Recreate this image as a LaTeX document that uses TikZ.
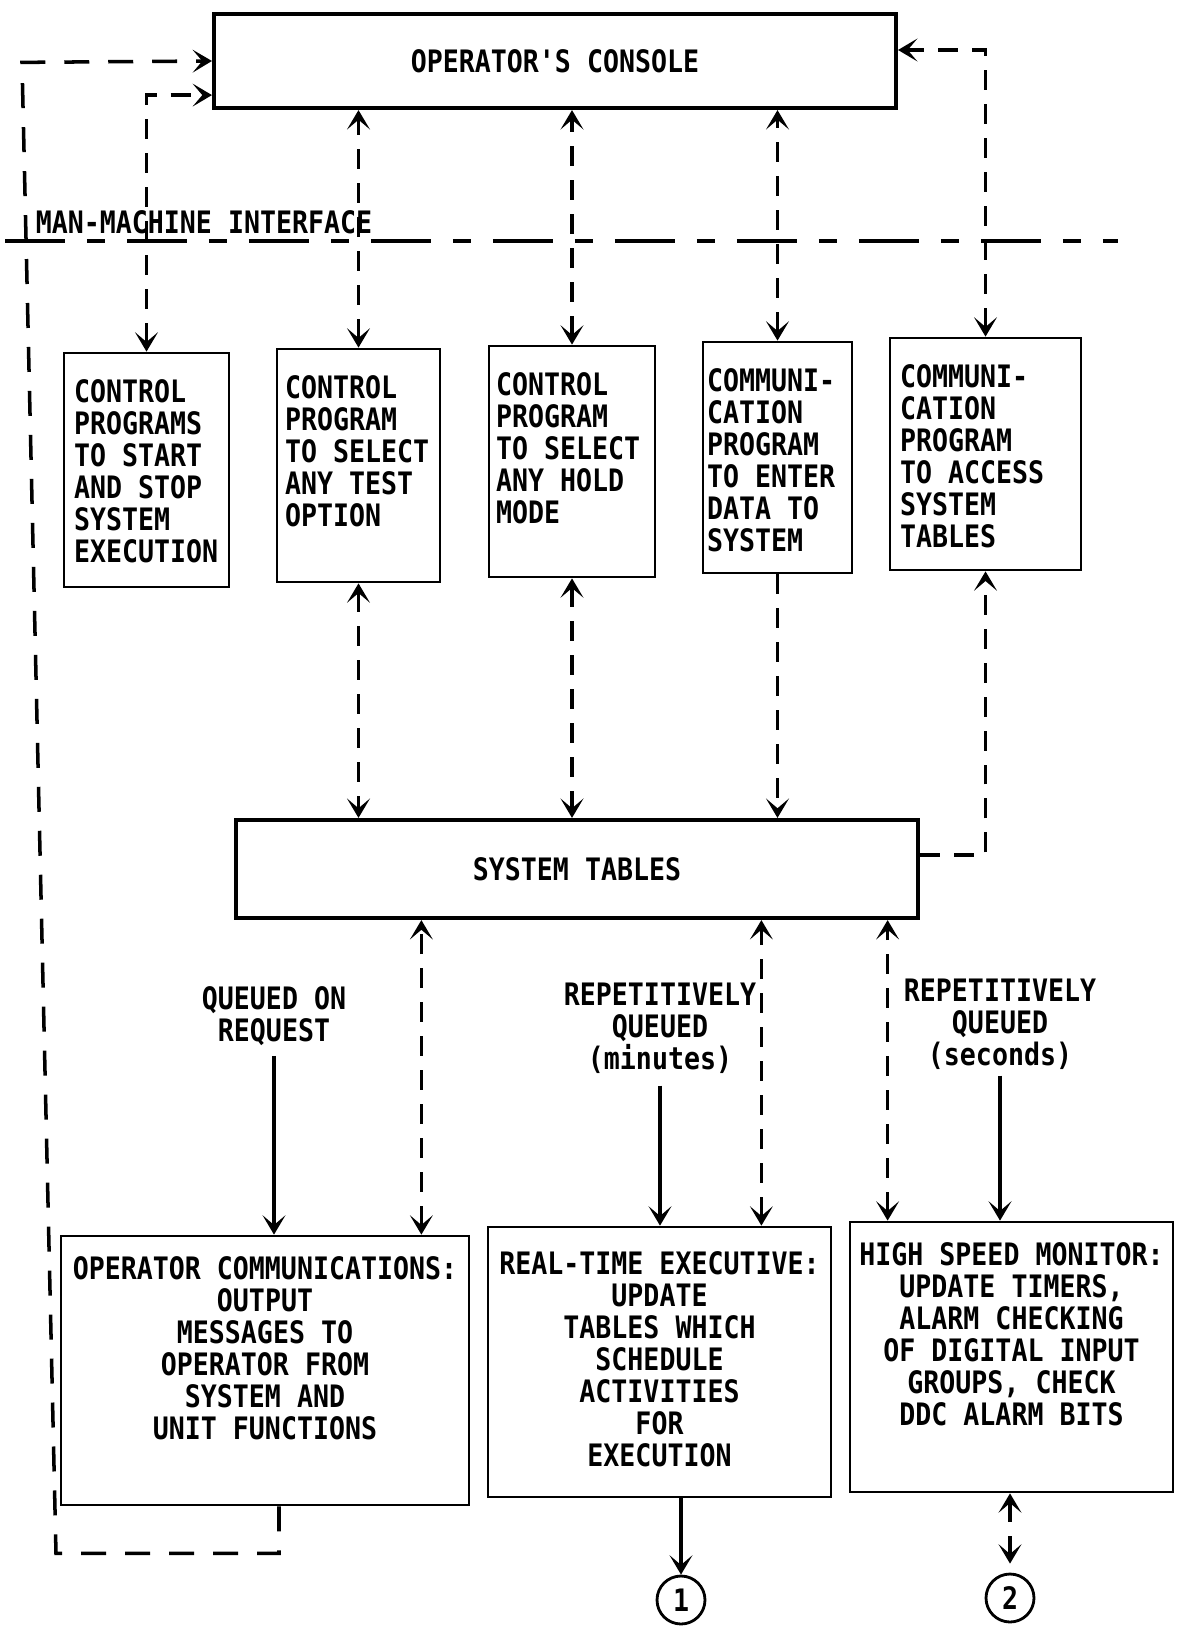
\documentclass[tikz,border=0pt]{standalone}
\usepackage{fontspec}
\usepackage{tikz}
\usetikzlibrary{arrows.meta}
\newfontfamily\lettering[FakeStretch=0.86]{DejaVu Sans Mono}
\newcommand{\letterfont}{\lettering\bfseries\fontsize{17.6pt}{18.2pt}\selectfont}
\newcommand{\lefttext}[3]{\parbox[c][#2][t]{#1}{\raggedright #3}}
\newcommand{\centretext}[3]{\parbox[c][#2][t]{#1}{\centering #3}}

\begin{document}
\begin{tikzpicture}[x=0.02cm, y=-0.02cm, >={Stealth[length=11pt,width=13pt,inset=5.5pt]}]
        \tikzstyle{box} = [draw, line width=2.4pt, font=\letterfont]
        \tikzstyle{prog} = [draw, line width=1.6pt, inner ysep=0.54cm, font=\letterfont]
        \tikzstyle{task} = [draw, line width=1.6pt, inner xsep=0.1cm, font=\letterfont]
        \tikzstyle{queue} = [align=center, inner sep=0pt, font=\letterfont]
        \tikzstyle{offpage} = [draw, circle, line width=1.6pt, minimum size=0.96cm, inner sep=0pt, font=\letterfont]
        \tikzstyle{link} = [line width=2pt, dash pattern=on 0.4cm off 0.28cm]
        \tikzstyle{flow} = [->, line width=1.8pt]
        \tikzstyle{feedback} = [->, line width=2pt, dash pattern=on 0.5cm off 0.38cm]
        \tikzstyle{divider} = [line width=2pt, dash pattern=on 1.2cm off 0.44cm on 0.36cm off 0.44cm]
        \useasboundingbox (0,0) rectangle (1176,1631);
        \node[box, minimum width=13.64cm, minimum height=1.88cm] (console) at (555,61) {OPERATOR'S CONSOLE};
        \node[queue] (mmi) at (204,222) {MAN-MACHINE INTERFACE};
        \draw[divider] (5,241) -- (1118,241);
        \node[prog, inner xsep=0.2cm] (prog1) at (146.5,470) {\lefttext{2.9cm}{3.6cm}{CONTROL\\PROGRAMS\\TO START\\AND STOP\\SYSTEM\\EXECUTION}};
        \node[prog, inner xsep=0.16cm] (prog2) at (358.5,465.5) {\lefttext{2.94cm}{3.58cm}{CONTROL\\PROGRAM\\TO SELECT\\ANY TEST\\OPTION}};
        \node[prog, inner xsep=0.14cm] (prog3) at (572,461.5) {\lefttext{3.04cm}{3.54cm}{CONTROL\\PROGRAM\\TO SELECT\\ANY HOLD\\MODE}};
        \node[prog, inner xsep=0.08cm] (prog4) at (777.5,457.5) {\lefttext{2.82cm}{3.54cm}{COMMUNI-\\CATION\\PROGRAM\\TO ENTER\\DATA TO\\SYSTEM}};
        \node[prog, inner xsep=0.2cm] (prog5) at (985.5,454) {\lefttext{3.42cm}{3.56cm}{COMMUNI-\\CATION\\PROGRAM\\TO ACCESS\\SYSTEM\\TABLES}};
        \node[box, minimum width=13.64cm, minimum height=1.96cm] (tables) at (577,869) {SYSTEM TABLES};
        \node[queue] (queue1) at (274,1016) {QUEUED ON\\REQUEST};
        \node[queue] (queue2) at (660,1028) {REPETITIVELY\\QUEUED\\(minutes)};
        \node[queue] (queue3) at (1000,1024) {REPETITIVELY\\QUEUED\\(seconds)};
        \node[task, inner ysep=0.42cm] (task1) at (265,1370.5) {\centretext{7.96cm}{4.54cm}{OPERATOR COMMUNICATIONS:\\OUTPUT\\MESSAGES TO\\OPERATOR FROM\\SYSTEM AND\\UNIT FUNCTIONS}};
        \node[task, inner ysep=0.5cm] (task2) at (659.5,1362) {\centretext{6.66cm}{4.4cm}{REAL-TIME EXECUTIVE:\\UPDATE\\TABLES WHICH\\SCHEDULE\\ACTIVITIES\\FOR\\EXECUTION}};
        \node[task, inner ysep=0.42cm] (task3) at (1011.5,1357) {\centretext{6.26cm}{4.56cm}{HIGH SPEED MONITOR:\\UPDATE TIMERS,\\ALARM CHECKING\\OF DIGITAL INPUT\\GROUPS, CHECK\\DDC ALARM BITS}};
        \node[offpage] (off1) at (681,1600) {1};
        \node[offpage] (off2) at (1010,1598) {2};
        \coordinate (tap1) at ([xshift=-0.98cm]task1.north east);
        \coordinate (tap2) at ([xshift=-1.42cm]task2.north east);
        \coordinate (tap3) at ([xshift=0.78cm]task3.north west);
        \draw[link, <->] (prog1.north) |- ([yshift=0.3cm]console.south west);
        \draw[link, <->] (prog2.north) -- (prog2.north |- console.south);
        \draw[link, <->] (prog3.north) -- (prog3.north |- console.south);
        \draw[link, <->] (prog4.north) -- (prog4.north |- console.south);
        \draw[link, <->] (prog5.north) |- ([yshift=0.22cm]console.east);
        \draw[link, <->] (prog2.south) -- (prog2.south |- tables.north);
        \draw[link, <->] (prog3.south) -- (prog3.south |- tables.north);
        \draw[link, ->] (prog4.south) -- (prog4.south |- tables.north);
        \draw[link, ->] ([yshift=0.28cm]tables.east) -| (prog5.south);
        \draw[feedback] ([xshift=0.28cm]task1.south) -- ++(0,47) -- ++(-223,0) -- ++(-34,-1491) -- (console.west);
        \draw[flow, shorten <=0.2cm] (queue1.south) -- (queue1.south |- task1.north);
        \draw[flow, shorten <=0.24cm] (queue2.south) -- (queue2.south |- task2.north);
        \draw[flow, shorten <=0.12cm] (queue3.south) -- (queue3.south |- task3.north);
        \draw[link, <->] (tap1) -- (tap1 |- tables.south);
        \draw[link, <->] (tap2) -- (tap2 |- tables.south);
        \draw[link, <->] (tap3) -- (tap3 |- tables.south);
        \draw[flow] (task2.south -| off1.north) -- (off1.north);
        \draw[link, <->, shorten >=0.18cm] (task3.south -| off2.north) -- (off2.north);
    \end{tikzpicture}
\end{document}
